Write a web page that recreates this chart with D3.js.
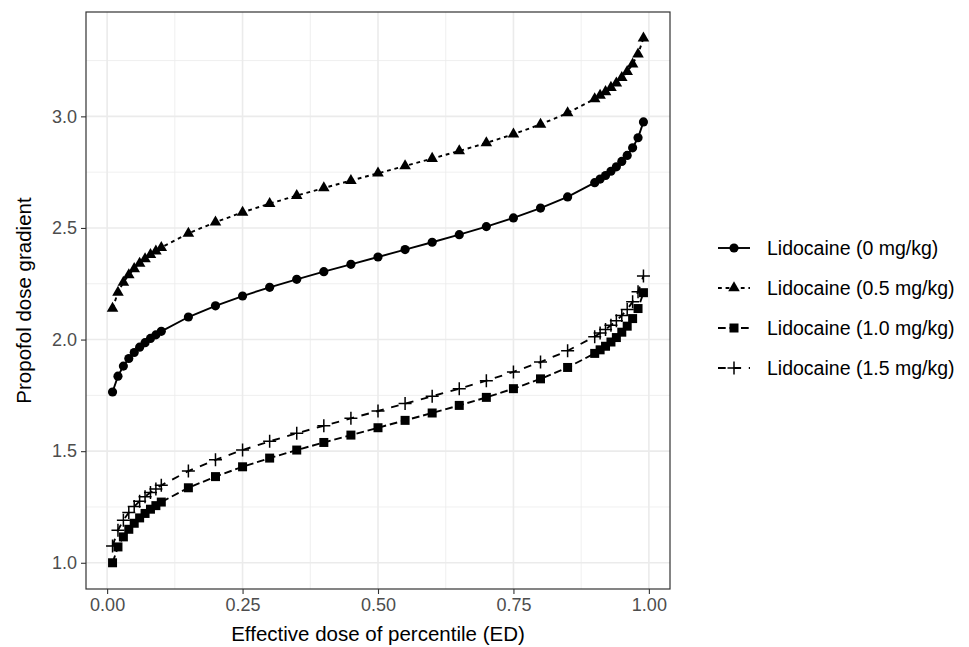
<!DOCTYPE html>
<html>
<head>
<meta charset="utf-8">
<script src="https://cdn.jsdelivr.net/npm/d3@7"></script>
<style>
    body { margin: 0; background: #fff; }
    svg { font-family: "Liberation Sans", Arial, sans-serif; }
</style>
</head>
<body>
<div id="chart"></div>
<script>
/*global d3*/
"use strict";

// percentiles on the x axis
var percentiles = [0.01, 0.02, 0.03, 0.04, 0.05, 0.06, 0.07, 0.08, 0.09, 0.10,
    0.15, 0.20, 0.25, 0.30, 0.35, 0.40, 0.45, 0.50, 0.55, 0.60, 0.65, 0.70, 0.75, 0.80, 0.85,
    0.90, 0.91, 0.92, 0.93, 0.94, 0.95, 0.96, 0.97, 0.98, 0.99];

var lido0 = [1.765, 1.836, 1.881, 1.915, 1.942, 1.966, 1.986, 2.005, 2.021, 2.037,
    2.101, 2.151, 2.195, 2.234, 2.270, 2.304, 2.337, 2.370, 2.403, 2.436, 2.470, 2.506, 2.545, 2.589, 2.639,
    2.703, 2.719, 2.735, 2.754, 2.774, 2.798, 2.825, 2.859, 2.904, 2.975];
var lido05 = [2.140, 2.211, 2.256, 2.290, 2.317, 2.341, 2.361, 2.380, 2.396, 2.412,
    2.476, 2.526, 2.570, 2.609, 2.645, 2.679, 2.712, 2.745, 2.778, 2.811, 2.845, 2.881, 2.920, 2.964, 3.015,
    3.078, 3.094, 3.110, 3.129, 3.149, 3.173, 3.200, 3.234, 3.279, 3.350];
var lido10 = [1.000, 1.071, 1.116, 1.150, 1.177, 1.201, 1.221, 1.240, 1.256, 1.272,
    1.336, 1.386, 1.430, 1.469, 1.505, 1.539, 1.572, 1.605, 1.638, 1.671, 1.705, 1.741, 1.780, 1.824, 1.875,
    1.938, 1.954, 1.970, 1.989, 2.009, 2.033, 2.060, 2.094, 2.139, 2.210];
var lido15 = [1.075, 1.146, 1.191, 1.225, 1.252, 1.276, 1.296, 1.315, 1.331, 1.347,
    1.411, 1.461, 1.505, 1.544, 1.580, 1.614, 1.647, 1.680, 1.713, 1.746, 1.780, 1.816, 1.855, 1.899, 1.950,
    2.013, 2.029, 2.045, 2.064, 2.084, 2.108, 2.135, 2.169, 2.214, 2.285];

var seriesNames = ["Lidocaine (0 mg/kg)", "Lidocaine (0.5 mg/kg)", "Lidocaine (1.0 mg/kg)", "Lidocaine (1.5 mg/kg)"];
var xTicks = [0, 0.25, 0.5, 0.75, 1];
var xTickLabels = ["0.00", "0.25", "0.50", "0.75", "1.00"];
var yTicks = [1.0, 1.5, 2.0, 2.5, 3.0];
var yTickLabels = ["1.0", "1.5", "2.0", "2.5", "3.0"];

var width = 969;
var height = 647;
var panel = { left: 86, right: 670, top: 12, bottom: 589 };

// line styles per series, like ggplot's default linetype palette
var styles = [
    { shape: "circle", dash: null },
    { shape: "triangle", dash: "3.8,3.8" },
    { shape: "square", dash: "7.7,3.8" },
    { shape: "plus", dash: "7.7,7.7" }
];

var seriesValues = [lido0, lido05, lido10, lido15];
var series = seriesNames.map(function (name, i) {
    return {
        name: name,
        style: styles[i],
        points: percentiles.map(function (p, j) {
            return { x: p, y: seriesValues[i][j] };
        })
    };
});

// ggplot-like 5% expansion
var xMin = d3.min(percentiles), xMax = d3.max(percentiles);
var xPad = (xMax - xMin) * 0.05;
var allY = [].concat(lido0, lido05, lido10, lido15);
var yMin = d3.min(allY), yMax = d3.max(allY);
var yPad = (yMax - yMin) * 0.05;

var x = d3.scaleLinear().domain([xMin - xPad, xMax + xPad]).range([panel.left, panel.right]);
var y = d3.scaleLinear().domain([yMin - yPad, yMax + yPad]).range([panel.bottom, panel.top]);

var svg = d3.select("#chart").append("svg")
    .attr("width", width)
    .attr("height", height);

svg.append("rect")
    .attr("width", width).attr("height", height)
    .attr("fill", "#fff");

// grid
var grid = svg.append("g");
var xMinor = [0.125, 0.375, 0.625, 0.875];
var yMinor = [1.25, 1.75, 2.25, 2.75, 3.25];
grid.selectAll(".xminor").data(xMinor).enter().append("line")
    .attr("x1", x).attr("x2", x)
    .attr("y1", panel.top).attr("y2", panel.bottom)
    .attr("stroke", "#ebebeb").attr("stroke-width", 0.8);
grid.selectAll(".yminor").data(yMinor).enter().append("line")
    .attr("y1", y).attr("y2", y)
    .attr("x1", panel.left).attr("x2", panel.right)
    .attr("stroke", "#ebebeb").attr("stroke-width", 0.8);
grid.selectAll(".xmajor").data(xTicks).enter().append("line")
    .attr("x1", x).attr("x2", x)
    .attr("y1", panel.top).attr("y2", panel.bottom)
    .attr("stroke", "#ebebeb").attr("stroke-width", 1.6);
grid.selectAll(".ymajor").data(yTicks).enter().append("line")
    .attr("y1", y).attr("y2", y)
    .attr("x1", panel.left).attr("x2", panel.right)
    .attr("stroke", "#ebebeb").attr("stroke-width", 1.6);

// axes
var xAxis = svg.append("g")
    .attr("transform", "translate(0," + panel.bottom + ")")
    .call(d3.axisBottom(x).tickValues(xTicks).tickSize(5).tickPadding(4)
        .tickFormat(function (d, i) { return xTickLabels[i]; }));
var yAxis = svg.append("g")
    .attr("transform", "translate(" + panel.left + ",0)")
    .call(d3.axisLeft(y).tickValues(yTicks).tickSize(5).tickPadding(4)
        .tickFormat(function (d, i) { return yTickLabels[i]; }));
[xAxis, yAxis].forEach(function (ax) {
    ax.select(".domain").remove();
    ax.selectAll(".tick line").attr("stroke", "#333").attr("stroke-width", 1.1);
    ax.selectAll(".tick text")
        .attr("fill", "#4d4d4d")
        .style("font-size", "18px")
        .style("font-family", "Liberation Sans, Arial, sans-serif");
});

function symbolPath(shape) {
    if (shape === "circle") {
        return d3.symbol().type(d3.symbolCircle).size(66)();
    }
    if (shape === "triangle") {
        return d3.symbol().type(d3.symbolTriangle).size(58)();
    }
    if (shape === "square") {
        return d3.symbol().type(d3.symbolSquare).size(81)();
    }
    return "M-6.5,0H6.5M0,-6.5V6.5";
}

function drawPoint(sel, shape) {
    sel.attr("d", symbolPath(shape))
        .attr("fill", shape === "plus" ? "none" : "#000")
        .attr("stroke", shape === "plus" ? "#000" : "none")
        .attr("stroke-width", 1.5);
}

var line = d3.line()
    .x(function (d) { return x(d.x); })
    .y(function (d) { return y(d.y); });

var plot = svg.append("g");
series.forEach(function (s) {
    plot.append("path")
        .datum(s.points)
        .attr("d", line)
        .attr("fill", "none")
        .attr("stroke", "#000")
        .attr("stroke-width", 1.9)
        .attr("stroke-dasharray", s.style.dash);
    plot.selectAll(null)
        .data(s.points)
        .enter()
        .append("path")
        .attr("transform", function (d) {
            return "translate(" + x(d.x) + "," + y(d.y) + ")";
        })
        .call(drawPoint, s.style.shape);
});

// panel border
svg.append("rect")
    .attr("x", panel.left).attr("y", panel.top)
    .attr("width", panel.right - panel.left)
    .attr("height", panel.bottom - panel.top)
    .attr("fill", "none")
    .attr("stroke", "#333")
    .attr("stroke-width", 1.2);

// axis titles
svg.append("text")
    .attr("x", (panel.left + panel.right) / 2)
    .attr("y", 641)
    .attr("text-anchor", "middle")
    .style("font-size", "20.5px")
    .text("Effective dose of percentile (ED)");
svg.append("text")
    .attr("transform", "translate(31," + (panel.top + panel.bottom) / 2 + ") rotate(-90)")
    .attr("text-anchor", "middle")
    .style("font-size", "20.5px")
    .text("Propofol dose gradient");

// legend
var legend = svg.append("g").attr("transform", "translate(718,248)");
var item = legend.selectAll(".item")
    .data(series)
    .enter().append("g")
    .attr("transform", function (d, i) { return "translate(0," + i * 40 + ")"; });
item.append("line")
    .attr("x1", 0).attr("x2", 32)
    .attr("stroke", "#000")
    .attr("stroke-width", 1.9)
    .attr("stroke-dasharray", function (d) { return d.style.dash; });
item.append("path")
    .attr("transform", "translate(16,0)")
    .each(function (d) { d3.select(this).call(drawPoint, d.style.shape); });
item.append("text")
    .attr("x", 49)
    .attr("dy", "0.35em")
    .style("font-size", "19.5px")
    .text(function (d) { return d.name; });
</script>
</body>
</html>
